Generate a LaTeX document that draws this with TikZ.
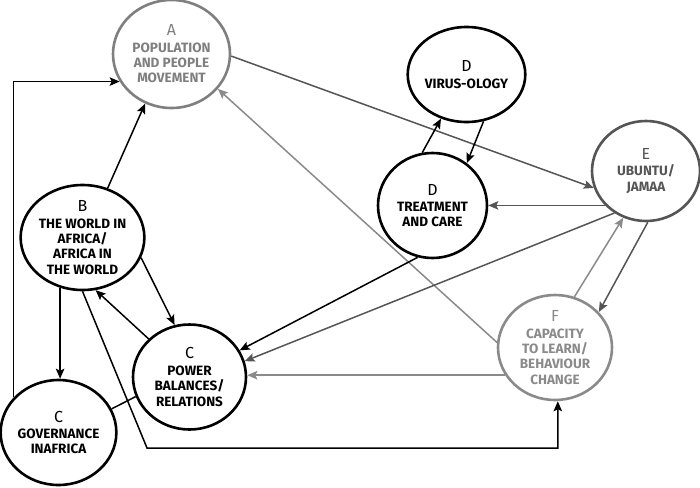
\documentclass[tikz,border=0pt]{standalone}
\usepackage{fontspec}
\setmainfont{Fira Sans}
\usetikzlibrary{shapes.geometric,arrows.meta}
\definecolor{gA}{HTML}{7F7F7F}
\definecolor{gE}{HTML}{555555}
\definecolor{gF}{HTML}{8A8A8A}
\newcommand\bigletter[1]{{\mdseries\fontsize{16}{16}\selectfont #1}\\[1.2pt]}
\begin{document}
\begin{tikzpicture}[x=1pt,y=-1pt,
 circ/.style={ellipse,draw,line width=2.6pt,minimum width=113pt,minimum height=105pt,inner sep=0pt,align=center,font=\fontsize{13.5}{15.3}\selectfont\bfseries},
 conn/.style={line width=1.5pt,-{Stealth[length=10pt,width=8.5pt,inset=2pt]}},
 plainline/.style={line width=1.5pt}]
\useasboundingbox (0,0) rectangle (700,487);
\node[circ,draw=gA,text=gA,minimum width=117pt,minimum height=108pt] (A) at (171.5,54) {\bigletter{A}POPULATION\\AND PEOPLE\\MOVEMENT};
\node[circ] (B) at (82.5,237.5) {\bigletter{B}THE WORLD IN\\AFRICA/\\AFRICA IN\\THE WORLD};
\node[circ] (P) at (189.5,377) {\bigletter{C}POWER\\BALANCES/\\RELATIONS};
\node[circ] (G) at (58.5,432.5) {\bigletter{C}GOVERNANCE\\INAFRICA};
\node[circ,minimum width=103pt,minimum height=95pt] (V) at (466.5,74.5) {\bigletter{D}VIRUS-OLOGY};
\node[circ,minimum width=109pt] (T) at (432.5,205.5) {\bigletter{D}TREATMENT\\AND CARE};
\node[circ,draw=gE,text=gE,minimum width=108pt,minimum height=100pt] (E) at (646,171) {\bigletter{E}UBUNTU/\\JAMAA};
\node[circ,draw=gF,text=gF,minimum width=114pt] (F) at (555,347.5) {\bigletter{F}CAPACITY\\TO LEARN/\\BEHAVIOUR\\CHANGE};
\coordinate (k) at (147,448);
\draw[conn,gE] (A.-2) -- (E.-162);
\draw[conn,gF] (F.175.5) -- (A.-37);
\draw[conn] (G.142) |- (A.208);
\draw[conn] (B.63) -- (A.-118);
\draw[conn] (B.-19) -- (P.106);
\draw[conn] (P.137) -- (B.-76);
\draw[conn] (B.-114) -- (B.-114 |- G.north);
\draw[plainline] (P.200) -- (G.24);
\draw[conn] (B.-90) -- (k) -| (F.-87);
\draw[conn] (T.101) -- (V.-120);
\draw[conn] (V.-70) -- (T.51);
\draw[conn,gE] (E.-140) -- (E.-140 -| T.east);
\draw[conn] (T.-106) -- (P.28);
\draw[conn,gE] (E.-127) -- (P.16);
\draw[conn,gF] (F.209.5) -- (F.209.5 -| P.east);
\draw[conn,gF] (F.69) -- (E.-116);
\draw[conn,gE] (E.-88) -- (F.39.5);
\end{tikzpicture}
\end{document}
